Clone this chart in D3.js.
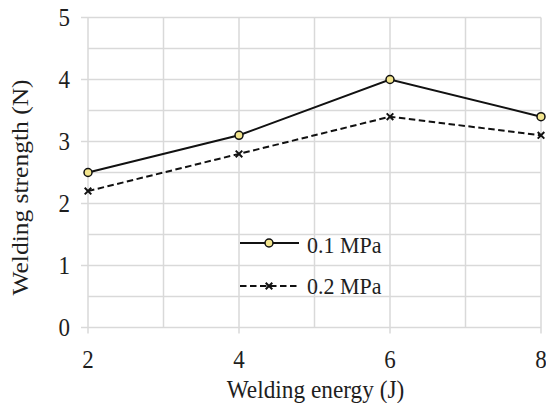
<!DOCTYPE html>
<html>
<head>
<meta charset="utf-8">
<script src="https://cdn.jsdelivr.net/npm/d3@7"></script>
</head>
<body style="margin:0">
<svg id="chart" width="546" height="403" style="font-family: 'Liberation Serif', serif"></svg>
<script>
const energy = [2, 4, 6, 8];
const strength01 = [2.5, 3.1, 4.0, 3.4];
const strength02 = [2.2, 2.8, 3.4, 3.1];
const seriesNames = ["0.1 MPa", "0.2 MPa"];
const yTicks = [0, 1, 2, 3, 4, 5];

const svg = d3.select("#chart");
const x = d3.scaleLinear().domain([2, 8]).range([88, 541]);
const y = d3.scaleLinear().domain([0, 5]).range([327.5, 17.5]);
const ink = "#1e1e1e";

// the source picture is a bit stretched vertically, so text is too
function label(sel, size) {
  return sel
    .style("font-family", '"Liberation Serif", serif')
    .style("font-size", size)
    .attr("fill", ink);
}

const grid = svg.append("g").attr("class", "grid");
grid.selectAll("line.h")
  .data(d3.range(0, 5.01, 0.5))
  .join("line")
  .attr("class", "h")
  .attr("x1", (d) => (Number.isInteger(d) ? x(2) - 7 : x(2)))
  .attr("x2", x(8))
  .attr("y1", (d) => y(d))
  .attr("y2", (d) => y(d))
  .attr("stroke", "#d9d9d9")
  .attr("stroke-width", 1.5);

grid.selectAll("line.v")
  .data(d3.range(2, 8.01, 1))
  .join("line")
  .attr("class", "v")
  .attr("x1", (d) => x(d))
  .attr("x2", (d) => x(d))
  .attr("y1", y(5))
  .attr("y2", (d) => (energy.includes(d) ? y(0) + 6 : y(0)))
  .attr("stroke", "#d9d9d9")
  .attr("stroke-width", 1.5);

// tick labels
label(svg.append("g")
  .selectAll("text")
  .data(yTicks)
  .join("text")
  .attr("transform", (d) => `translate(70,${y(d) + 8.7}) scale(1,1.12)`)
  .attr("text-anchor", "end"), "23px")
  .text((d) => d);

label(svg.append("g")
  .selectAll("text")
  .data(energy)
  .join("text")
  .attr("transform", (d) => `translate(${x(d)},368) scale(1,1.12)`)
  .attr("text-anchor", "middle"), "23px")
  .text((d) => d);

label(svg.append("text")
  .attr("transform", "translate(315.5,397.5) scale(1,1.1)")
  .attr("text-anchor", "middle"), "23.3px")
  .text("Welding energy (J)");

label(svg.append("text")
  .attr("transform", "translate(28,187.5) rotate(-90) scale(1.09,1)")
  .attr("text-anchor", "middle"), "23.4px")
  .text("Welding strength (N)");

// lines
const line = d3.line()
  .x((d, i) => x(energy[i]))
  .y((d) => y(d));

svg.append("path")
  .datum(strength02)
  .attr("d", line)
  .attr("fill", "none")
  .attr("stroke", "#111")
  .attr("stroke-width", 2)
  .attr("stroke-dasharray", "6.5,3.5");

svg.append("path")
  .datum(strength01)
  .attr("d", line)
  .attr("fill", "none")
  .attr("stroke", "#111")
  .attr("stroke-width", 2);

const cross = d3.symbol().type(d3.symbolX).size(30);

svg.append("g")
  .selectAll("path")
  .data(strength02)
  .join("path")
  .attr("transform", (d, i) => `translate(${x(energy[i])},${y(d)})`)
  .attr("d", cross)
  .attr("stroke", "#111")
  .attr("stroke-width", 2);

svg.append("g")
  .selectAll("circle")
  .data(strength01)
  .join("circle")
  .attr("cx", (d, i) => x(energy[i]))
  .attr("cy", (d) => y(d))
  .attr("r", 4)
  .attr("fill", "#f3e58e")
  .attr("stroke", "#111")
  .attr("stroke-width", 1.5);

// legend
const legend = svg.append("g").attr("transform", "translate(240,243)");
legend.append("line")
  .attr("x1", 0).attr("x2", 59).attr("y1", 0).attr("y2", 0)
  .attr("stroke", "#111").attr("stroke-width", 2);
legend.append("circle")
  .attr("cx", 29).attr("cy", 0).attr("r", 4)
  .attr("fill", "#f3e58e").attr("stroke", "#111").attr("stroke-width", 1.5);
label(legend.append("text")
  .attr("transform", "translate(67,10) scale(1,1.08)"), "22px")
  .text(seriesNames[0]);

const legend2 = svg.append("g").attr("transform", "translate(240,286)");
legend2.append("line")
  .attr("x1", 0).attr("x2", 59).attr("y1", 0).attr("y2", 0)
  .attr("stroke", "#111").attr("stroke-width", 2)
  .attr("stroke-dasharray", "6.5,3.5");
legend2.append("path")
  .attr("transform", "translate(29,0)")
  .attr("d", cross)
  .attr("stroke", "#111").attr("stroke-width", 2);
label(legend2.append("text")
  .attr("transform", "translate(67,8) scale(1,1.08)"), "22px")
  .text(seriesNames[1]);
</script>
</body>
</html>
